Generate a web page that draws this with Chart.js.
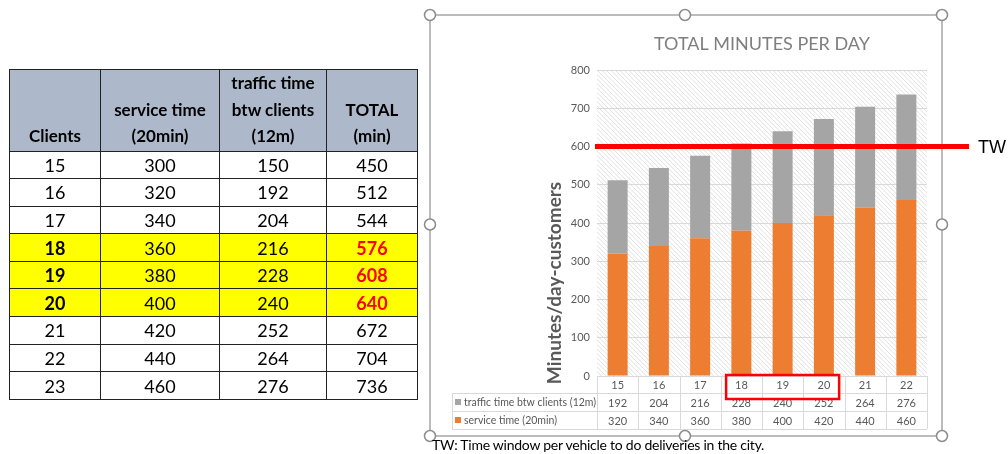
<!DOCTYPE html>
<html>
<head>
<meta charset="utf-8">
<script src="https://cdn.jsdelivr.net/npm/chart.js@4/dist/chart.umd.min.js"></script>
<style>
  html, body { margin: 0; padding: 0; background: #fff; }
  body { width: 1008px; height: 454px; position: relative; overflow: hidden; font-family: Lato, "Open Sans", sans-serif; }
  #chart { position: absolute; left: 0; top: 0; }
  table { position: absolute; left: 9px; top: 69px; border-collapse: collapse; font-size: 18px; color: #000; }
  td, th { border: 1.5px solid #222; text-align: center; padding: 0; height: 26.6px; }
  th { background: #adb9ca; vertical-align: bottom; font-weight: bold; font-size: 17px; height: 77px; line-height: 26.5px; padding-bottom: 1px; }
  tr.hl td { background: #ffff00; }
  tr.hl td.c { font-weight: bold; }
  tr.hl td.t { color: #ff0000; font-weight: bold; }
  #note { position: absolute; left: 432px; top: 436px; font-size: 14px; letter-spacing: -0.25px; color: #000; white-space: nowrap; }
</style>
</head>
<body>
<canvas id="chart" width="1008" height="454"></canvas>
<table id="tbl"></table>
<div id="note">TW: Time window per vehicle to do deliveries in the city.</div>
<script>
// données du tableau de gauche
const tableClients = [15, 16, 17, 18, 19, 20, 21, 22, 23];
const tableService = [300, 320, 340, 360, 380, 400, 420, 440, 460];
const tableTraffic = [150, 192, 204, 216, 228, 240, 252, 264, 276];
const tableTotal = [450, 512, 544, 576, 608, 640, 672, 704, 736];
const highlighted = [18, 19, 20];

// données du graphique
const categories = ['15', '16', '17', '18', '19', '20', '21', '22'];
const trafficTime = [192, 204, 216, 228, 240, 252, 264, 276];
const serviceTime = [320, 340, 360, 380, 400, 420, 440, 460];
const trafficLabel = 'traffic time btw clients (12m)';
const serviceLabel = 'service time (20min)';
const timeWindow = 600;
const boxedCategories = [3, 5]; // de 18 à 20

// construire le tableau HTML
const tbl = document.getElementById('tbl');
let html = '<colgroup><col style="width:91px"><col style="width:119px"><col style="width:107px"><col style="width:91px"></colgroup>';
html += '<tr><th>Clients</th><th>service time<br>(20min)</th><th>traffic time<br>btw clients<br>(12m)</th><th>TOTAL<br>(min)</th></tr>';
for (let i = 0; i < tableClients.length; i++) {
    const hl = highlighted.includes(tableClients[i]);
    html += '<tr' + (hl ? ' class="hl"' : '') + '><td class="c">' + tableClients[i] + '</td><td>' + tableService[i] +
        '</td><td>' + tableTraffic[i] + '</td><td class="t">' + tableTotal[i] + '</td></tr>';
}
tbl.innerHTML = html;

const GRAY = '#a5a5a5';
const ORANGE = '#ed7d31';
const TXT = '#595959';

const extrasPlugin = {
    id: 'extras',
    beforeDraw(chart) {
        const ctx = chart.ctx;
        const a = chart.chartArea;
        ctx.save();
        ctx.fillStyle = '#fff';
        ctx.fillRect(0, 0, chart.width, chart.height);
        // hachures du fond
        ctx.beginPath();
        ctx.rect(a.left, a.top, a.right - a.left, a.bottom - a.top);
        ctx.clip();
        ctx.strokeStyle = '#dedede';
        ctx.lineWidth = 0.9;
        const h = a.bottom - a.top;
        ctx.beginPath();
        for (let k = -h; k < a.right - a.left; k += 4.5) {
            ctx.moveTo(a.left + k, a.top);
            ctx.lineTo(a.left + k + h, a.bottom);
        }
        ctx.stroke();
        ctx.restore();
    },
    afterDraw(chart) {
        const ctx = chart.ctx;
        const a = chart.chartArea;
        const x = chart.scales.x;
        const y = chart.scales.y;
        const w = x.getPixelForValue(1) - x.getPixelForValue(0);
        ctx.save();

        // tableau de données sous le graphique
        const rowTop = [a.bottom, 393, 411, 429];
        ctx.strokeStyle = '#d9d9d9';
        ctx.lineWidth = 1;
        ctx.beginPath();
        for (let r = 0; r < rowTop.length; r++) {
            const lx = r === 0 ? a.left : 452;
            ctx.moveTo(lx, rowTop[r] + 0.5);
            ctx.lineTo(a.right, rowTop[r] + 0.5);
        }
        for (let i = 0; i <= categories.length; i++) {
            const cx = Math.round(x.getPixelForValue(i) - w / 2) + 0.5;
            ctx.moveTo(cx, a.bottom);
            ctx.lineTo(cx, rowTop[3]);
        }
        ctx.moveTo(452.5, rowTop[1]);
        ctx.lineTo(452.5, rowTop[3]);
        ctx.stroke();

        ctx.font = '11px Lato';
        ctx.fillStyle = TXT;
        ctx.textAlign = 'center';
        ctx.textBaseline = 'middle';
        categories.forEach((c, i) => {
            const cx = x.getPixelForValue(i);
            ctx.fillText(c, cx, (rowTop[0] + rowTop[1]) / 2 + 1);
            ctx.fillText(String(trafficTime[i]), cx, (rowTop[1] + rowTop[2]) / 2 + 1);
            ctx.fillText(String(serviceTime[i]), cx, (rowTop[2] + rowTop[3]) / 2 + 1);
        });
        ctx.textAlign = 'left';
        ctx.fillStyle = GRAY;
        ctx.fillRect(455, (rowTop[1] + rowTop[2]) / 2 - 3, 6, 6);
        ctx.fillStyle = ORANGE;
        ctx.fillRect(455, (rowTop[2] + rowTop[3]) / 2 - 3, 6, 6);
        ctx.fillStyle = TXT;
        ctx.font = '10.5px Lato';
        ctx.fillText(trafficLabel, 464, (rowTop[1] + rowTop[2]) / 2 + 1);
        ctx.fillText(serviceLabel, 464, (rowTop[2] + rowTop[3]) / 2 + 1);

        // titre
        ctx.font = '18px Lato';
        ctx.fillStyle = '#7f7f7f';
        ctx.textAlign = 'center';
        ctx.fillText('TOTAL MINUTES PER DAY', (a.left + a.right) / 2, 44);

        // titre de l'axe Y
        ctx.save();
        ctx.translate(555, 283);
        ctx.rotate(-Math.PI / 2);
        ctx.font = 'bold 19px Lato';
        ctx.fillStyle = TXT;
        ctx.fillText('Minutes/day-customers', 0, 0);
        ctx.restore();

        // cadre et poignées de sélection
        const fx0 = 430, fy0 = 15, fx1 = 942, fy1 = 436;
        ctx.strokeStyle = '#a6a6a6';
        ctx.lineWidth = 1.5;
        ctx.strokeRect(fx0, fy0, fx1 - fx0, fy1 - fy0);
        const mx = (fx0 + fx1) / 2 - 1, my = (fy0 + fy1) / 2 - 1;
        [[fx0, fy0], [mx, fy0], [fx1, fy0], [fx0, my], [fx1, my], [fx0, fy1], [mx, fy1], [fx1, fy1]].forEach(p => {
            ctx.beginPath();
            ctx.arc(p[0], p[1], 5.5, 0, Math.PI * 2);
            ctx.fillStyle = '#fff';
            ctx.fill();
            ctx.strokeStyle = '#8c8c8c';
            ctx.lineWidth = 1.5;
            ctx.stroke();
        });

        // ligne TW
        const ty = y.getPixelForValue(timeWindow);
        ctx.strokeStyle = '#ff0000';
        ctx.lineWidth = 5;
        ctx.beginPath();
        ctx.moveTo(a.left - 2, ty);
        ctx.lineTo(969, ty);
        ctx.stroke();
        ctx.font = '18px "Liberation Sans"';
        ctx.fillStyle = '#000';
        ctx.textAlign = 'left';
        ctx.fillText('TW', 978, ty + 2);

        // cadre rouge autour de 18-20
        ctx.lineWidth = 2.5;
        const bx0 = x.getPixelForValue(boxedCategories[0]) - w * 0.37;
        const bx1 = x.getPixelForValue(boxedCategories[1]) + w * 0.37;
        ctx.strokeRect(bx0, a.bottom - 1, bx1 - bx0, 24);

        ctx.restore();
    }
};

new Chart(document.getElementById('chart'), {
    type: 'bar',
    data: {
        labels: categories,
        datasets: [
            { label: serviceLabel, data: serviceTime, backgroundColor: ORANGE },
            { label: trafficLabel, data: trafficTime, backgroundColor: GRAY }
        ]
    },
    options: {
        responsive: false,
        animation: false,
        events: [],
        layout: { padding: { left: 557, right: 81, top: 70, bottom: 78 } },
        datasets: { bar: { categoryPercentage: 1, barPercentage: 0.485 } },
        plugins: { legend: { display: false }, tooltip: { enabled: false } },
        scales: {
            x: { stacked: true, display: false },
            y: {
                stacked: true,
                min: 0, max: 800,
                ticks: { stepSize: 100, color: TXT, font: { family: 'Lato', size: 11 }, padding: 7 },
                grid: { color: '#d9d9d9', drawTicks: false },
                border: { display: false },
                afterFit(scale) { scale.width = 40; }
            }
        }
    },
    plugins: [extrasPlugin]
});
</script>
</body>
</html>
